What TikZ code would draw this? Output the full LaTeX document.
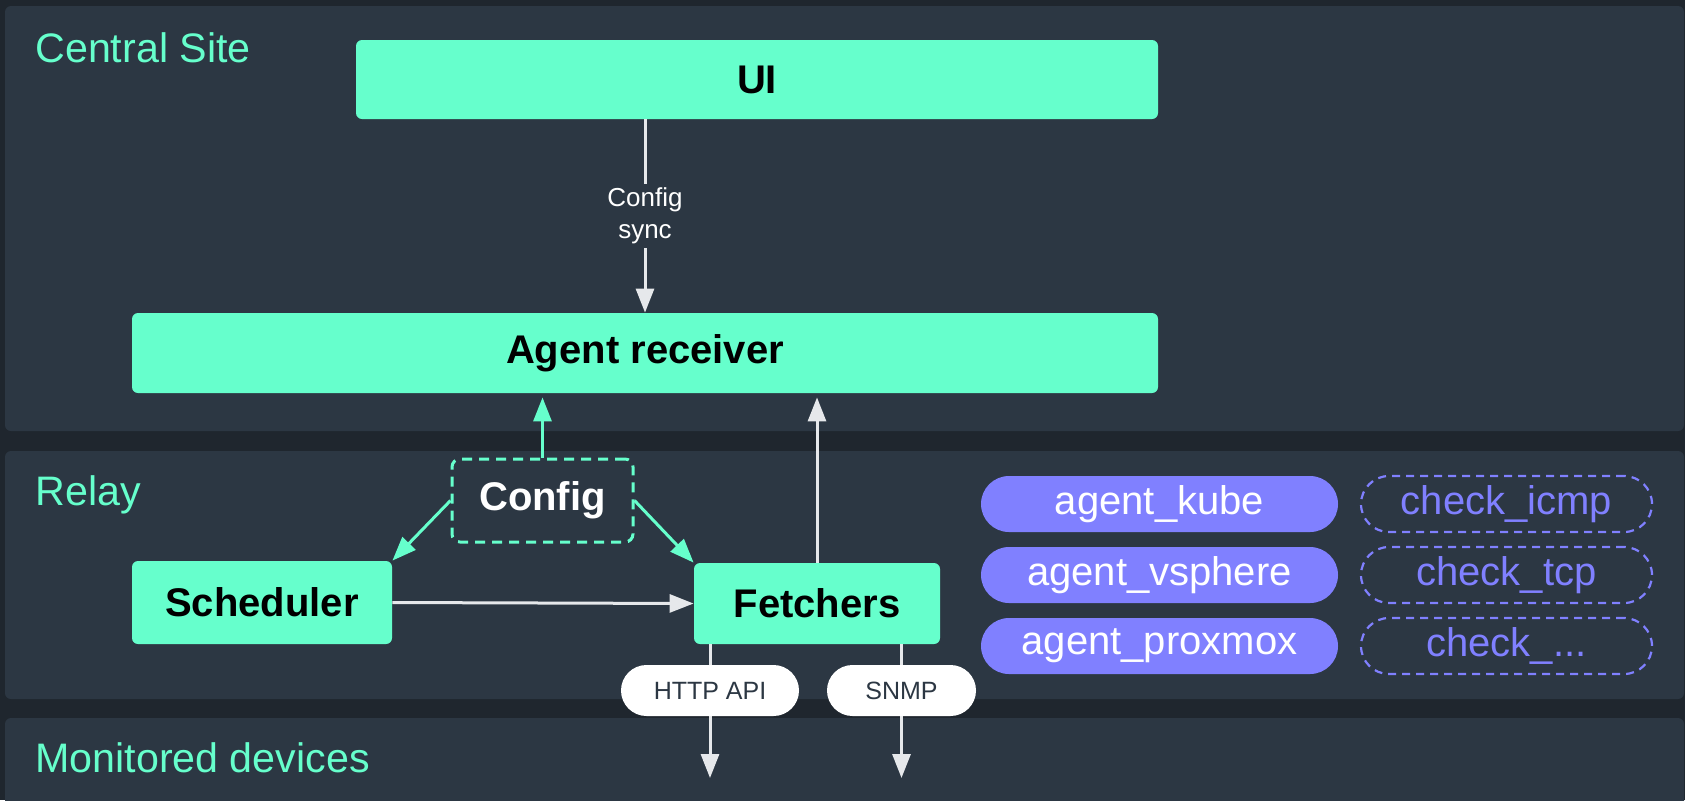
\documentclass[tikz,border=0pt]{standalone}
\usepackage{fontspec}
\setmainfont{Liberation Sans}
\usetikzlibrary{arrows.meta,calc}
\definecolor{bgc}{HTML}{1F262E}
\definecolor{panelc}{HTML}{2C3743}
\definecolor{mint}{HTML}{66FFCC}
\definecolor{violetc}{HTML}{8080FF}
\definecolor{arrowc}{HTML}{E6E8EB}
\begin{document}
\begin{tikzpicture}[x=0.5pt,y=-0.5pt,
  panel/.style={fill=panelc, rounded corners=3pt},
  zonelabel/.style={anchor=base west, inner sep=0pt, text=mint, font=\fontsize{20.6}{24}\selectfont},
  box/.style={fill=mint, rounded corners=3pt, inner sep=0pt, text=black, font=\fontsize{20}{24}\selectfont\bfseries},
  dbox/.style={draw=mint, line width=1.5pt, dash pattern=on 5pt off 3.5pt, rounded corners=4pt, inner sep=0pt, text=white, font=\fontsize{20}{24}\selectfont\bfseries, minimum width=90.5pt, minimum height=41.5pt},
  agentpill/.style={fill=violetc, rounded corners=14pt, inner sep=0pt, text=white, minimum width=178.5pt, minimum height=28pt, font=\fontsize{20}{24}\selectfont},
  checkpill/.style={draw=violetc, line width=1.1pt, dash pattern=on 4pt off 3pt, rounded corners=14pt, inner sep=0pt, text=violetc, minimum width=145.5pt, minimum height=28pt, font=\fontsize{20}{24}\selectfont},
  protopill/.style={fill=white, rounded corners=12.75pt, inner sep=0pt, text=panelc, minimum height=25.5pt, font=\fontsize{12.5}{15}\selectfont},
  warrow/.style={draw=arrowc, line width=1.5pt, -{Triangle[length=12pt,width=9pt]}},
  marrow/.style={draw=mint, line width=1.5pt, -{Triangle[length=12pt,width=9pt]}},
  synclabel/.style={fill=panelc, text=white, align=center, inner sep=2pt, font=\fontsize{13}{16}\selectfont}
]
\useasboundingbox[fill=bgc] (0,0) rectangle (1685,800);
% zones
\fill[panel] (5,6) rectangle (1684,431);
\fill[panel] (5,451) rectangle (1684,699);
\fill[panel] (5,718) rectangle (1684,830);
\node[zonelabel] (lcentral) at (35,62) {Central Site};
\node[zonelabel] (lrelay) at (35,505) {Relay};
\node[zonelabel] (lmon) at (35,772) {Monitored devices};
% main boxes
\node[box, minimum width=401pt, minimum height=39.5pt] (ui) at (757,79.5) {UI};
\node[box, minimum width=513pt, minimum height=40pt] (ar) at (645,353) {Agent receiver};
\node[dbox] (cfg) at (542.5,500.5) {Config};
\node[box, minimum width=130pt, minimum height=41.5pt] (sch) at (262,602.5) {Scheduler};
\node[box, minimum width=123pt, minimum height=40.5pt] (fet) at (817,603.5) {Fetchers};
% agents and checks
\node[agentpill] (a1) at (1159.5,504) {agent\_kube};
\node[agentpill] (a2) at (1159.5,575) {agent\_vsphere};
\node[agentpill] (a3) at (1159.5,646) {agent\_proxmox};
\node[checkpill] (c1) at (1506.5,504) {check\_icmp};
\node[checkpill] (c2) at (1506.5,575) {check\_tcp};
\node[checkpill] (c3) at (1506.5,646) {check\_...};
% connectors
\draw[warrow] (ui.south -| ar.north) -- node[synclabel] (sync) {Config\\sync} (ar.north);
\draw[marrow, shorten >=2pt] (cfg.north) -- (cfg.north |- ar.south);
\draw[marrow] (cfg.west) -- (sch.north east);
\draw[marrow] (cfg.east) -- (fet.north west);
\draw[warrow] (sch.east) -- (fet.west);
\draw[warrow, shorten >=2pt] (fet.north) -- (fet.north |- ar.south);
\coordinate (d1) at (710,778);
\coordinate (d2) at (901.5,778);
\draw[warrow] (fet.south -| d1) -- (d1);
\draw[warrow] (fet.south -| d2) -- (d2);
\node[protopill, minimum width=89pt] (http) at (710,690.5) {HTTP API};
\node[protopill, minimum width=74.5pt] (snmp) at (901.5,690.5) {SNMP};
\end{tikzpicture}
\end{document}
